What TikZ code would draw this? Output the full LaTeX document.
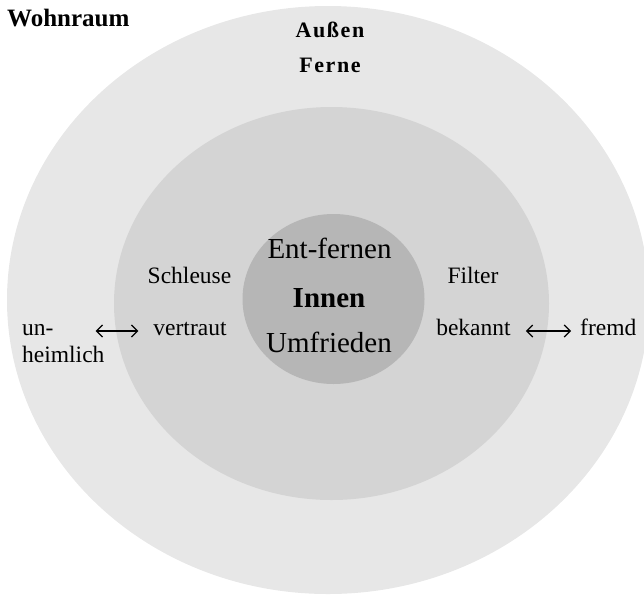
\documentclass[tikz,border=0pt]{standalone}
\usepackage{fontspec}
\setmainfont{Liberation Serif}
\usetikzlibrary{arrows.meta}
\definecolor{outergrey}{gray}{0.905}
\definecolor{middlegrey}{gray}{0.83}
\definecolor{innergrey}{gray}{0.715}
\begin{document}
\begin{tikzpicture}[x=1pt,y=-1pt,
    lbl/.style={inner sep=0pt,anchor=base,font=\fontsize{23.5}{26}\selectfont},
    core/.style={inner sep=0pt,anchor=base,font=\fontsize{29}{32}\selectfont},
    far/.style={inner sep=0pt,anchor=base,font=\fontsize{22}{25}\selectfont\bfseries\addfontfeatures{LetterSpace=7}},
    biarrow/.style={{Straight Barb[length=6pt,width=12pt]}-{Straight Barb[length=6pt,width=12pt]},line width=1.2pt}]
    \useasboundingbox (0,0) rectangle (644,595);
    \clip (0,0) rectangle (644,595);
    \fill[outergrey] (328,300) ellipse [x radius=321, y radius=294];
    \fill[middlegrey] (331.5,303.5) ellipse [x radius=217.5, y radius=196.5];
    \fill[innergrey] (333.5,299) ellipse [x radius=91, y radius=85];

    \node[inner sep=0pt,anchor=base west,font=\fontsize{25}{28}\selectfont\bfseries] (wohnraum) at (7,26) {Wohnraum};
    \node[far] (aussen) at (330,37) {Außen};
    \node[far] (ferne) at (330,72) {Ferne};

    \node[core] (ent_fernen) at (329.5,258) {Ent-fernen};
    \node[core,font=\fontsize{29}{32}\selectfont\bfseries] (innen) at (329,307) {Innen};
    \node[core] (umfrieden) at (329,352) {Umfrieden};

    \node[lbl] (schleuse) at (189.5,283) {Schleuse};
    \node[lbl] (filter) at (473,283) {Filter};
    \node[lbl] (vertraut) at (190,335) {vertraut};
    \node[lbl] (bekannt) at (473.5,335) {bekannt};
    \node[lbl,anchor=base west] (un) at (22,335) {un-};
    \node[lbl,anchor=base west] (heimlich) at (22,362) {heimlich};
    \node[lbl,anchor=base west] (fremd) at (580,335) {fremd};

    % \draw[biarrow] (un) -- (vertraut) ;
    \draw[biarrow,shorten <=42pt,shorten >=15pt] ([yshift=4pt]un.base east) -- ([yshift=4pt]vertraut.base west) ;
    \draw[biarrow,shorten <=15pt,shorten >=9pt] ([yshift=4pt]bekannt.base east) -- ([yshift=4pt]fremd.base west) ;
\end{tikzpicture}
\end{document}
